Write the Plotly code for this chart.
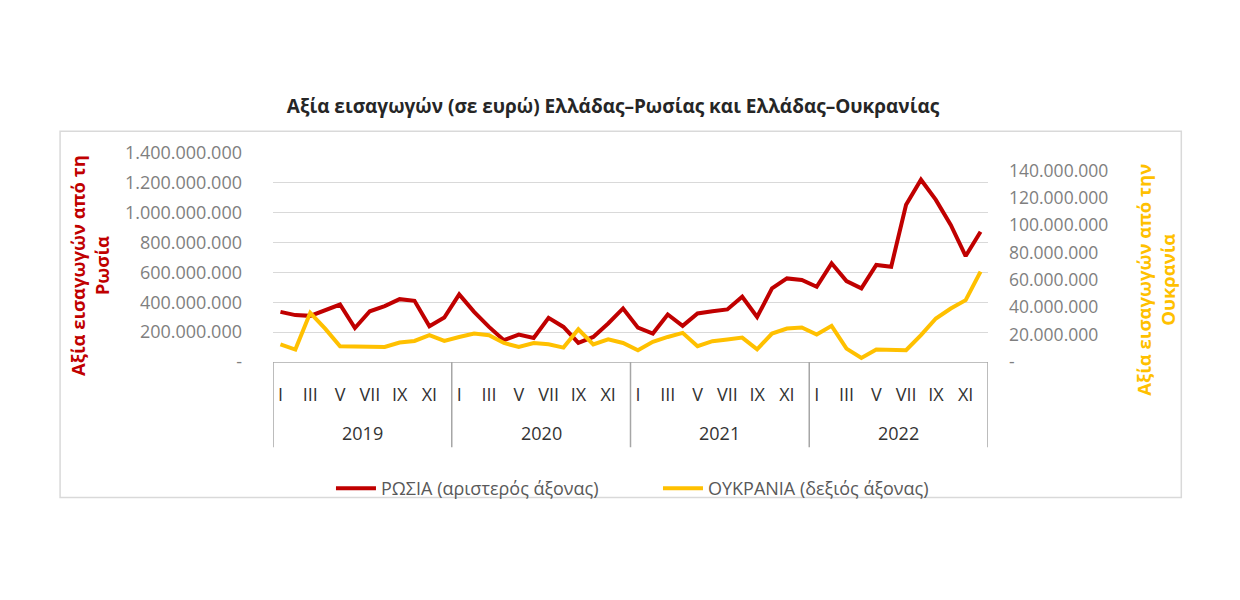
import plotly.graph_objects as go

# ---------------- data ----------------
years = ["2019", "2020", "2021", "2022"]
month_labels = ["I", "II", "III", "IV", "V", "VI", "VII", "VIII", "IX", "X", "XI", "XII"]

# Imports from Russia (EUR, left axis)
russia = [336, 314, 309, 347, 385, 228, 340, 374, 421, 410, 240, 298,
          453, 336, 235, 146, 184, 161, 296, 235, 128, 168, 258, 359,
          230, 191, 318, 242, 325, 340, 352, 437, 302, 493, 560, 549,
          504, 661, 542, 493, 650, 638, 1053, 1221, 1086, 918, 710, 873]
russia = [v * 1_000_000 for v in russia]

# Imports from Ukraine (EUR, right axis)
ukraine = [12.8, 9.1, 35.9, 24.4, 11.5, 11.5, 11.5, 11.0, 14.2, 15.4, 19.6, 15.4,
           18.3, 20.8, 19.6, 13.9, 11.0, 13.9, 13.0, 10.5, 23.9, 12.8, 16.6, 13.9,
           8.6, 14.7, 18.3, 21.3, 11.5, 15.2, 16.4, 17.8, 9.3, 20.8, 24.4, 25.2,
           20.1, 26.4, 9.8, 2.9, 9.1, 9.1, 8.6, 19.6, 31.8, 39.1, 45.2, 66.0]
ukraine = [v * 1_000_000 for v in ukraine]

left_ticks = [0, 200_000_000, 400_000_000, 600_000_000, 800_000_000,
              1_000_000_000, 1_200_000_000, 1_400_000_000]
right_ticks = [0, 20_000_000, 40_000_000, 60_000_000, 80_000_000,
               100_000_000, 120_000_000, 140_000_000]

title_text = "Αξία εισαγωγών (σε ευρώ) Ελλάδας–Ρωσίας και Ελλάδας–Ουκρανίας"
left_title = "Αξία εισαγωγών από τη<br>Ρωσία"
right_title = "Αξία εισαγωγών από την<br>Ουκρανία"
name_russia = "ΡΩΣΙΑ (αριστερός άξονας)"
name_ukraine = "ΟΥΚΡΑΝΙΑ (δεξιός άξονας)"


def fmt(v):
    return "-" if v == 0 else f"{v:,}".replace(",", ".")


# ---------------- derived ----------------
n = len(years) * len(month_labels)
x_idx = list(range(n))
tick_idx = [i for i in x_idx if i % 2 == 0]
tick_txt = [month_labels[i % 12] for i in tick_idx]

RED = "#C00000"
YEL = "#FFC000"
FONT = "Open Sans"

fig = go.Figure()
fig.add_trace(go.Scatter(x=x_idx, y=russia, name=name_russia, mode="lines",
                         line=dict(color=RED, width=4), yaxis="y"))
fig.add_trace(go.Scatter(x=x_idx, y=ukraine, name=name_ukraine, mode="lines",
                         line=dict(color=YEL, width=4), yaxis="y2"))

# plot area geometry (px)
L, R, T, B = 273, 988.3, 153.3, 361.7
W, H = 1240, 600
pw, ph = R - L, B - T


def px(xp):
    return (xp - L) / pw


def py(yp):
    return (B - yp) / ph


fig.update_layout(
    width=W, height=H,
    margin=dict(l=L, r=W - R, t=T, b=H - B, pad=0),
    paper_bgcolor="white", plot_bgcolor="white",
    font=dict(family=FONT, color="#595959"),
    title=dict(text=title_text, x=613 / W, xref="container", xanchor="center",
               y=1 - 106 / H, yref="container", yanchor="middle",
               font=dict(family=FONT, size=19, color="#262626", weight="bold")),
    xaxis=dict(range=[-0.5, n - 0.5], tickmode="array", tickvals=tick_idx, ticktext=tick_txt,
               showgrid=False, zeroline=False, showline=True, linecolor="#BFBFBF", linewidth=1,
               ticks="", ticklabelstandoff=16,
               tickfont=dict(family=FONT, size=18, color="#333333"), fixedrange=True),
    yaxis=dict(range=[0, 1_400_000_000], tickmode="array", tickvals=left_ticks,
               ticktext=[fmt(v) for v in left_ticks],
               showgrid=True, gridcolor="#D9D9D9", gridwidth=1, zeroline=False, showline=False,
               ticks="", ticklabelstandoff=30,
               tickfont=dict(family=FONT, size=18, color="#7F7F7F")),
    yaxis2=dict(range=[0, 152_700_000], overlaying="y", side="right", tickmode="array",
                tickvals=right_ticks, ticktext=[fmt(v) for v in right_ticks],
                showgrid=False, zeroline=False, showline=False, ticks="", ticklabelstandoff=20,
                tickfont=dict(family=FONT, size=17.5, color="#7F7F7F")),
    legend=dict(orientation="h", x=px(331), xanchor="left", y=py(488), yanchor="middle",
                entrywidth=272, font=dict(family=FONT, size=18, color="#595959"),
                bgcolor="rgba(0,0,0,0)", itemwidth=40),
    showlegend=True,
)

shapes = []
# outer chart border
shapes.append(dict(type="rect", xref="paper", yref="paper",
                   x0=px(60), x1=px(1181.7), y0=py(496.7), y1=py(131.7),
                   line=dict(color="#D9D9D9", width=1.5), fillcolor="rgba(0,0,0,0)", layer="below"))
# category table separators
for k in range(len(years) + 1):
    xv = k * 12 - 0.5
    shapes.append(dict(type="line", xref="x", yref="paper", x0=xv, x1=xv,
                       y0=0, y1=py(446.7), line=dict(color="#A6A6A6", width=1.5)))
fig.update_layout(shapes=shapes)

ann = []
for k, yr in enumerate(years):
    ann.append(dict(text=yr, xref="x", yref="paper", x=k * 12 + 5.5, y=py(432.3),
                    showarrow=False, xanchor="center", yanchor="middle",
                    font=dict(family=FONT, size=18, color="#333333")))
ann.append(dict(text=left_title, xref="paper", yref="paper", x=px(89), y=py(266),
                textangle=-90, showarrow=False, xanchor="center", yanchor="middle",
                font=dict(family=FONT, size=18.5, color=RED, weight="bold")))
ann.append(dict(text=right_title, xref="paper", yref="paper", x=px(1155), y=py(280),
                textangle=-90, showarrow=False, xanchor="center", yanchor="middle",
                font=dict(family=FONT, size=18.5, color=YEL, weight="bold")))
fig.update_layout(annotations=ann)

fig.write_html("out.html")
